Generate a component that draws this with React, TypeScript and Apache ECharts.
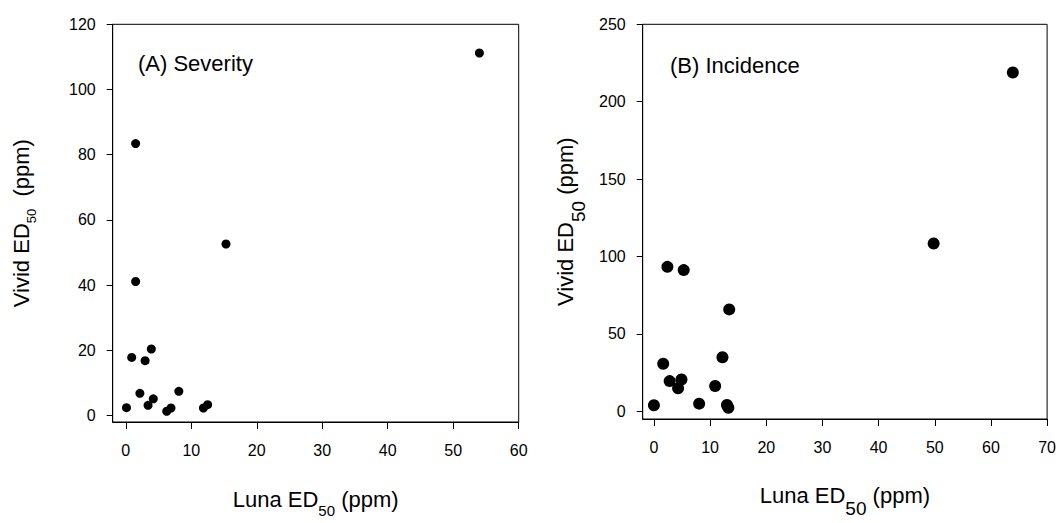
import React, { useEffect, useRef } from 'react';
import * as echarts from 'echarts';

// Panel A: Severity
const severityLuna = [54.0, 1.5, 15.3, 1.5, 0.9, 3.9, 2.95, 2.15, 0.1, 4.2, 3.4, 8.1, 6.25, 6.9, 11.85, 12.5];
const severityVivid = [111.2, 83.4, 52.6, 41.1, 17.8, 20.4, 16.8, 6.8, 2.4, 5.1, 3.1, 7.4, 1.3, 2.3, 2.3, 3.3];
// Panel B: Incidence
const incidenceLuna = [63.9, 49.8, 2.4, 5.3, 13.4, 12.2, 1.65, 2.8, 4.9, 4.3, 10.9, 0.0, 8.05, 13.0, 13.25];
const incidenceVivid = [218.9, 108.4, 93.3, 91.2, 65.8, 34.9, 30.7, 19.5, 20.5, 14.8, 16.3, 3.9, 4.9, 4.1, 2.3];

const severityXTicks = [0, 10, 20, 30, 40, 50, 60];
const severityYTicks = [0, 20, 40, 60, 80, 100, 120];
const incidenceXTicks = [0, 10, 20, 30, 40, 50, 60, 70];
const incidenceYTicks = [0, 50, 100, 150, 200, 250];

const panelLabels = ['(A) Severity', '(B) Incidence'];

const FONT = '"Liberation Sans", Arial, Helvetica, sans-serif';

function axisCommon(ticks: number[], tickLen: number, margin: number) {
  return {
    type: 'value' as const,
    axisLine: { show: true, onZero: false, lineStyle: { color: '#000', width: 1 } },
    axisTick: { show: true, inside: false, length: tickLen, customValues: ticks, lineStyle: { color: '#000', width: 1 } },
    axisLabel: { show: true, customValues: ticks, margin, color: '#000', fontSize: 16, fontFamily: FONT },
    splitLine: { show: false },
    nameLocation: 'middle' as const,
  };
}

function nameStyle(subSize: number, subPad: number) {
  return {
    color: '#000',
    fontFamily: FONT,
    rich: {
      t: { fontSize: 22, fontFamily: FONT, color: '#000' },
      s: { fontSize: subSize, fontFamily: FONT, color: '#000', verticalAlign: 'bottom', padding: [subPad, 0, 0, 0] },
    },
  };
}

export default function App() {
  const ref = useRef<HTMLDivElement>(null);
  useEffect(() => {
    if (!ref.current) return;
    const chart = echarts.init(ref.current, null, { renderer: 'svg' });
    const option = {
      animation: false,
      backgroundColor: '#fff',
      grid: [
        { left: 112.7, top: 24.3, width: 406, height: 404.3, show: true, borderColor: '#000', borderWidth: 1, containLabel: false },
        { left: 642.7, top: 24.3, width: 406, height: 404.3, show: true, borderColor: '#000', borderWidth: 1, containLabel: false },
      ],
      xAxis: [
        {
          ...axisCommon(severityXTicks, 7, 20),
          gridIndex: 0, min: -2, max: 60,
          name: '{t|Luna ED}{s|50}{t| (ppm)}', nameGap: 58,
          nameTextStyle: nameStyle(15, 23),
        },
        {
          ...axisCommon(incidenceXTicks, 7, 20),
          gridIndex: 1, min: -2, max: 70,
          name: '{t|Luna ED}{s|50}{t| (ppm)}', nameGap: 54,
          nameTextStyle: nameStyle(19, 26),
        },
      ],
      yAxis: [
        {
          ...axisCommon(severityYTicks, 6, 17),
          gridIndex: 0, min: -2, max: 120,
          name: '{t|Vivid ED}{s|50}{t|  (ppm)}', nameGap: 75,
          nameTextStyle: nameStyle(13, 20),
        },
        {
          ...axisCommon(incidenceYTicks, 6, 17),
          gridIndex: 1, min: -5, max: 250,
          name: '{t|Vivid ED}{s|50}{t| (ppm)}', nameGap: 55,
          nameTextStyle: nameStyle(19, 26),
        },
      ],
      graphic: [
        { type: 'text', left: 138, top: 52, style: { text: panelLabels[0], fontSize: 22, fontFamily: FONT, fill: '#000' } },
        { type: 'text', left: 670, top: 54, style: { text: panelLabels[1], fontSize: 22, fontFamily: FONT, fill: '#000' } },
      ],
      series: [
        {
          type: 'scatter', xAxisIndex: 0, yAxisIndex: 0, symbol: 'circle', symbolSize: 9,
          itemStyle: { color: '#000', opacity: 1 }, silent: true,
          data: severityLuna.map((x, i) => [x, severityVivid[i]]),
        },
        {
          type: 'scatter', xAxisIndex: 1, yAxisIndex: 1, symbol: 'circle', symbolSize: 12,
          itemStyle: { color: '#000', opacity: 1 }, silent: true,
          data: incidenceLuna.map((x, i) => [x, incidenceVivid[i]]),
        },
      ],
    };
    chart.setOption(option as any);
    return () => chart.dispose();
  }, []);
  return (
    <div
      ref={ref}
      style={{ position: 'fixed', left: 0, top: 0, width: 1059, height: 523, background: '#fff' }}
    />
  );
}
